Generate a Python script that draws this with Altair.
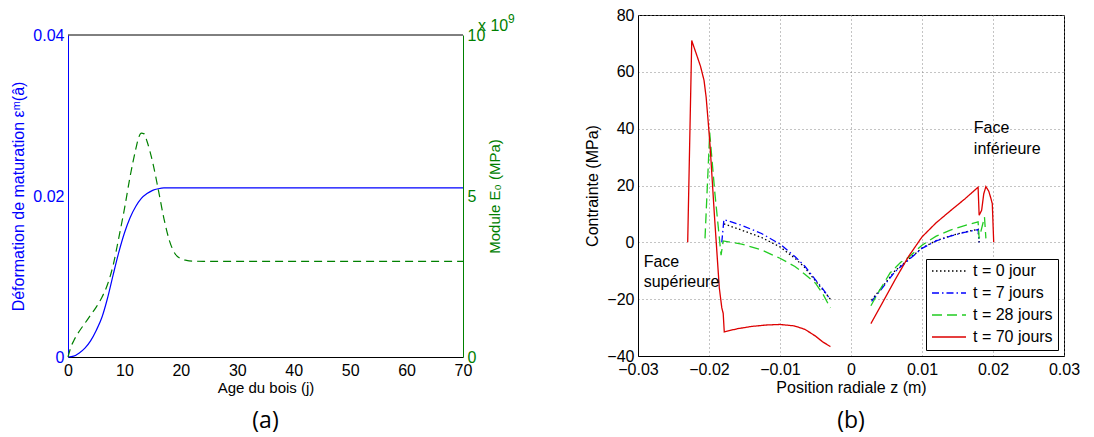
import altair as alt
import pandas as pd

FONT = "Liberation Sans"
BLUE_A = "#0000ff"
GREEN_A = "#008000"

# ---------------- panel (a) ----------------
age_strain = [0, 1, 2, 3, 4, 5, 6, 7, 8, 9, 10, 11, 12, 13, 14, 15, 16, 17, 18, 19, 20, 30, 40, 50, 60, 70]
strain = [0, 0.0001, 0.0005, 0.0011, 0.002, 0.0033, 0.0049, 0.0073, 0.0102, 0.013, 0.0154, 0.0173,
          0.0187, 0.0197, 0.0203, 0.0207, 0.0209, 0.021, 0.021, 0.021, 0.021, 0.021, 0.021, 0.021, 0.021, 0.021]

age_module = [0, 0.5, 1, 2, 3, 4, 5, 6, 7, 8, 9, 10, 11, 12, 12.5, 13, 13.5, 14, 15, 16, 17, 18, 19, 20,
              21, 22, 24, 30, 40, 50, 60, 70]
module_e0 = [0, 0.3, 0.5, 0.8, 1.05, 1.3, 1.55, 1.85, 2.25, 2.85, 3.7, 4.6, 5.6, 6.45, 6.8, 6.95, 6.93,
             6.7, 6.05, 5.2, 4.3, 3.6, 3.2, 3.05, 3.0, 2.98, 2.97, 2.97, 2.97, 2.97, 2.97, 2.97]

age_ticks = [0, 10, 20, 30, 40, 50, 60, 70]
strain_ticks = [0, 0.02, 0.04]
module_ticks = [0, 5, 10]
strain_top = [0.04]

# ---------------- panel (b) ----------------
series_names = ["t = 0 jour", "t = 7 jours", "t = 28 jours", "t = 70 jours"]
series_colors = ["#000000", "#0000ff", "#22cc22", "#dd0000"]
series_dashes = [[1.5, 2.5], [7, 3, 1.5, 3], [10, 5], [1, 0]]

z_t0_sup = [-0.0179, -0.0154, -0.0126, -0.0100, -0.0079, -0.0065, -0.0050, -0.0040, -0.0029]
s_t0_sup = [6.5, 4.3, 1.7, -1.6, -5.6, -8.9, -13.6, -16.6, -20.0]
z_t0_inf = [0.0029, 0.0044, 0.0062, 0.0081, 0.0100, 0.0120, 0.0140, 0.0160, 0.0179, 0.01805]
s_t0_inf = [-20.3, -15.7, -10.0, -6.0, -2.0, 0.6, 2.3, 3.6, 4.6, 0]

z_t7_sup = [-0.0182, -0.0179, -0.0154, -0.0126, -0.0100, -0.0079, -0.0065, -0.0050, -0.0040, -0.0029]
s_t7_sup = [0, 8.0, 6.0, 3.1, -0.6, -5.0, -8.4, -13.2, -16.3, -20.2]
z_t7_inf = [0.0029, 0.0044, 0.0062, 0.0081, 0.0100, 0.0120, 0.0140, 0.0160, 0.0179, 0.01805]
s_t7_inf = [-20.8, -16.1, -10.3, -6.2, -2.1, 0.5, 2.2, 3.5, 4.5, 0]

z_t28_sup = [-0.02056, -0.0199, -0.0192, -0.0183, -0.0180, -0.0154, -0.0126, -0.0100, -0.0079, -0.0065,
             -0.0050, -0.0040, -0.0029]
s_t28_sup = [1.4, 38.6, 18.0, -4.5, 0.5, -0.6, -2.7, -5.6, -8.5, -11.2, -14.4, -18.0, -23.1]
z_t28_inf = [0.0028, 0.0040, 0.0055, 0.0070, 0.0081, 0.0100, 0.0120, 0.0140, 0.0160, 0.0179, 0.01805,
             0.0188, 0.0190]
s_t28_inf = [-22.3, -17.0, -10.8, -7.0, -5.3, -1.0, 2.2, 4.3, 5.9, 7.2, 1.4, 8.9, 1.4]

z_t70_sup = [-0.0230, -0.02243, -0.0212, -0.0207, -0.0204, -0.0201, -0.01985, -0.0196, -0.01925, -0.0189,
             -0.01855, -0.0182, -0.0180, -0.01785, -0.0160, -0.0140, -0.0120, -0.0100, -0.0080, -0.0065,
             -0.0050, -0.0040, -0.0029]
s_t70_sup = [0, 71, 62, 57, 51, 42, 34, 24, 10, -3, -16, -23, -25, -31.5, -30.4, -29.6, -29.1, -28.9,
             -29.4, -30.6, -33.0, -35.0, -36.7]
z_t70_inf = [0.0028, 0.0044, 0.0062, 0.0081, 0.0100, 0.0120, 0.0140, 0.0160, 0.0179, 0.01805, 0.0184,
             0.0187, 0.0190, 0.0194, 0.0197, 0.0199, 0.0201]
s_t70_inf = [-28.6, -21.4, -13.2, -5.0, 1.9, 6.9, 11.1, 15.2, 19.4, 9.5, 11.3, 17.1, 19.6, 18.0, 15.5,
             13.6, 0]

z_ticks = [-0.03, -0.02, -0.01, 0, 0.01, 0.02, 0.03]
s_ticks = [-40, -20, 0, 20, 40, 60, 80]

ann_text = ["Face", "supérieure", "Face", "inférieure"]
ann_z = [-0.0292, -0.0292, 0.0173, 0.0173]
ann_s = [-6.8, -13.8, 40.3, 32.7]

# ---------------- build tables ----------------
df_strain = pd.DataFrame({"age": age_strain, "v": strain})
df_module = pd.DataFrame({"age": age_module, "v": module_e0})
df_top = pd.DataFrame({"v": strain_top})

segments = [
    (series_names[0], "0s", z_t0_sup, s_t0_sup), (series_names[0], "0i", z_t0_inf, s_t0_inf),
    (series_names[1], "7s", z_t7_sup, s_t7_sup), (series_names[1], "7i", z_t7_inf, s_t7_inf),
    (series_names[2], "28s", z_t28_sup, s_t28_sup), (series_names[2], "28i", z_t28_inf, s_t28_inf),
    (series_names[3], "70s", z_t70_sup, s_t70_sup), (series_names[3], "70i", z_t70_inf, s_t70_inf),
]
rows = []
for name, seg, zs, ss in segments:
    for i, (z, s) in enumerate(zip(zs, ss)):
        rows.append({"serie": name, "seg": seg, "idx": i, "z": z, "s": s})
df_b = pd.DataFrame(rows)
df_ann = pd.DataFrame({"z": ann_z, "s": ann_s, "label": ann_text})

# ---------------- panel (a) chart ----------------
H_A = 342      # group height (aligned with panel b top)
TOP_A = 20     # plot top inside the group
FMT = ".2~f"

x_a = alt.X("age:Q", scale=alt.Scale(domain=[0, 70], nice=False),
            axis=alt.Axis(values=age_ticks, format=FMT, title="Age du bois (j)", grid=False,
                          labelFlush=False, labelOverlap=False, labelPadding=5, titlePadding=2,
                          titleFontSize=15))

strain_scale = alt.Scale(domain=[0, 0.04], nice=False, range=[H_A, TOP_A])
module_scale = alt.Scale(domain=[0, 10], nice=False, range=[H_A, TOP_A])

blue_line = alt.Chart(df_strain).mark_line(color=BLUE_A, strokeWidth=1.2, interpolate="monotone").encode(
    x=x_a,
    y=alt.Y("v:Q", scale=strain_scale,
            axis=alt.Axis(orient="left", values=strain_ticks, format=FMT,
                          title="Déformation de maturation  εᵐ(â)", titleColor=BLUE_A,
                          labelColor=BLUE_A, domainColor=BLUE_A, grid=False, labelPadding=4,
                          titlePadding=6, titleFontSize=16)),
)

top_border = alt.Chart(df_top).mark_rule(color="black", strokeWidth=1).encode(
    y=alt.Y("v:Q", scale=strain_scale, axis=None))

green_line = alt.Chart(df_module).mark_line(color=GREEN_A, strokeWidth=1.2, strokeDash=[8, 5],
                                            interpolate="monotone").encode(
    x=x_a,
    y=alt.Y("v:Q", scale=module_scale,
            axis=alt.Axis(orient="right", values=module_ticks, format=FMT,
                          title="Module E₀ (MPa)", titleColor=GREEN_A, titleAngle=270,
                          titleBaseline="top",
                          labelColor=GREEN_A, domainColor=GREEN_A, grid=False, labelPadding=4,
                          titlePadding=3, titleFontSize=15)),
)

exp_text = alt.Chart(df_top).mark_text(color=GREEN_A, fontSize=16, align="left",
                                       baseline="alphabetic", font=FONT).encode(
    x=alt.value(410), y=alt.value(TOP_A - 4), text=alt.value("x 10"))
exp_sup = alt.Chart(df_top).mark_text(color=GREEN_A, fontSize=12, align="left",
                                      baseline="alphabetic", font=FONT).encode(
    x=alt.value(440), y=alt.value(TOP_A - 12), text=alt.value("9"))

left = alt.layer(top_border, blue_line, green_line, exp_text, exp_sup).resolve_scale(
    y="independent").properties(
    width=395, height=H_A, view=alt.ViewBackground(stroke="transparent"),
    title=alt.TitleParams("(a)", orient="bottom", anchor="middle", frame="group", fontSize=23,
                          font="Open Sans", fontWeight="normal", offset=15, color="black"))

# ---------------- panel (b) chart ----------------
legend_b = alt.Legend(title=None, orient="bottom-right", offset=6, strokeColor="black",
                      fillColor="white", padding=5, symbolType="stroke", symbolSize=1156,
                      symbolStrokeWidth=1.3, labelFontSize=16, labelFont=FONT, clipHeight=14,
                      rowPadding=6, labelOffset=6, labelColor="black", cornerRadius=0)

x_b = alt.X("z:Q", scale=alt.Scale(domain=[-0.03, 0.03], nice=False),
            axis=alt.Axis(values=z_ticks, format=FMT, title="Position radiale z (m)", grid=True,
                          labelFlush=False, labelOverlap=False, labelPadding=5, titlePadding=2))
y_b = alt.Y("s:Q", scale=alt.Scale(domain=[-40, 80], nice=False),
            axis=alt.Axis(values=s_ticks, format=FMT, title="Contrainte (MPa)", grid=True,
                          labelPadding=4, titlePadding=6))

lines_b = alt.Chart(df_b).mark_line(strokeWidth=1.3).encode(
    x=x_b, y=y_b,
    color=alt.Color("serie:N", scale=alt.Scale(domain=series_names, range=series_colors), legend=legend_b),
    strokeDash=alt.StrokeDash("serie:N", scale=alt.Scale(domain=series_names, range=series_dashes),
                              legend=legend_b),
    detail="seg:N",
    order="idx:Q",
)

ann_b = alt.Chart(df_ann).mark_text(align="left", baseline="middle", fontSize=16, font=FONT,
                                    color="black").encode(
    x="z:Q", y="s:Q", text="label:N")

right = alt.layer(lines_b, ann_b).properties(
    width=426, height=341,
    title=alt.TitleParams("(b)", orient="bottom", anchor="middle", frame="group", fontSize=23,
                          font="Open Sans", fontWeight="normal", offset=15, color="black"))

chart = alt.hconcat(left, right, spacing=68).resolve_scale(
    color="independent", strokeDash="independent").resolve_legend(
    color="independent", strokeDash="independent").properties(
    padding={"left": 2, "top": -2, "right": 0, "bottom": 0}
).configure(font=FONT).configure_view(stroke="black", strokeWidth=1).configure_axis(
    domainColor="black", domainWidth=1, labelFontSize=16, titleFontSize=16, titleFontWeight="normal",
    labelColor="black", titleColor="black", ticks=False, gridColor="#888888", gridDash=[1, 3],
    gridWidth=1, labelFont=FONT, titleFont=FONT)

chart.save("out.html", embed_options={"renderer": "svg", "actions": False})
